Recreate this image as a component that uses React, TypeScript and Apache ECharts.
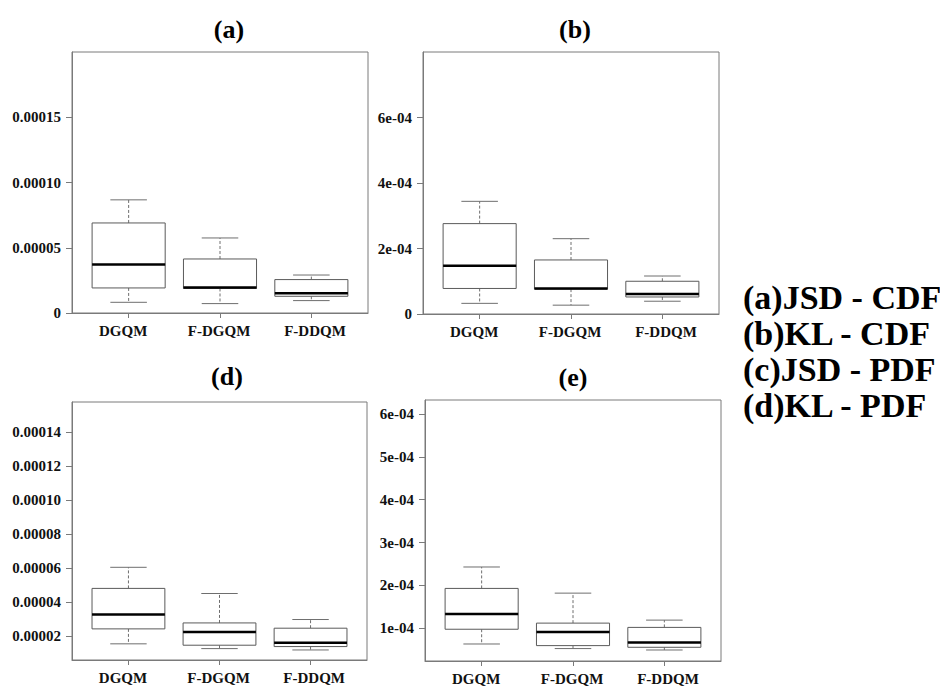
import React, { useEffect, useRef } from "react";
import * as echarts from "echarts";

// ---------- data ----------
const CATEGORIES = ["DGQM", "F-DGQM", "F-DDQM"];
const PANEL_TITLES = ["(a)", "(b)", "(d)", "(e)"];
const LEGEND_LINES = ["(a)JSD - CDF", "(b)KL - CDF", "(c)JSD - PDF", "(d)KL - PDF"];

// five-number summaries [lower whisker, Q1, median, Q3, upper whisker]
const JSD_CDF_DGQM = [8.2e-6, 1.92e-5, 3.71e-5, 6.9e-5, 8.67e-5];
const JSD_CDF_FDGQM = [7.2e-6, 1.88e-5, 1.95e-5, 4.14e-5, 5.75e-5];
const JSD_CDF_FDDQM = [9.5e-6, 1.28e-5, 1.51e-5, 2.56e-5, 2.91e-5];

const KL_CDF_DGQM = [3.25e-5, 7.8e-5, 1.47e-4, 2.76e-4, 3.44e-4];
const KL_CDF_FDGQM = [2.7e-5, 7.6e-5, 7.8e-5, 1.65e-4, 2.3e-4];
const KL_CDF_FDDQM = [3.9e-5, 5.2e-5, 6.1e-5, 1.0e-4, 1.16e-4];

const JSD_PDF_DGQM = [1.55e-5, 2.43e-5, 3.28e-5, 4.81e-5, 6.05e-5];
const JSD_PDF_FDGQM = [1.27e-5, 1.47e-5, 2.24e-5, 2.78e-5, 4.51e-5];
const JSD_PDF_FDDQM = [1.19e-5, 1.39e-5, 1.61e-5, 2.47e-5, 2.98e-5];

const KL_PDF_DGQM = [6.33e-5, 9.77e-5, 1.33e-4, 1.93e-4, 2.43e-4];
const KL_PDF_FDGQM = [5.26e-5, 5.95e-5, 9.14e-5, 1.12e-4, 1.82e-4];
const KL_PDF_FDDQM = [4.93e-5, 5.56e-5, 6.66e-5, 1.02e-4, 1.19e-4];

// y tick values and labels
const TICKS_A = [0, 0.00005, 0.0001, 0.00015];
const LABELS_A = ["0", "0.00005", "0.00010", "0.00015"];
const TICKS_B = [0, 0.0002, 0.0004, 0.0006];
const LABELS_B = ["0", "2e-04", "4e-04", "6e-04"];
const TICKS_D = [0.00002, 0.00004, 0.00006, 0.00008, 0.0001, 0.00012, 0.00014];
const LABELS_D = ["0.00002", "0.00004", "0.00006", "0.00008", "0.00010", "0.00012", "0.00014"];
const TICKS_E = [0.0001, 0.0002, 0.0003, 0.0004, 0.0005, 0.0006];
const LABELS_E = ["1e-04", "2e-04", "3e-04", "4e-04", "5e-04", "6e-04"];

// y ranges
const YRANGE_A = [0, 0.0002];
const YRANGE_B = [0, 0.0008];
const YRANGE_D = [0.000006, 0.0001577];
const YRANGE_E = [0.0000236, 0.0006327];

// ---------- layout ----------
const FONT = "Liberation Serif";
const FRAME = "#7a7a7a";

const PANELS = [
  { grid: { left: 72, top: 52, width: 296, height: 261 }, range: YRANGE_A, ticks: TICKS_A, labels: LABELS_A,
    boxes: [JSD_CDF_DGQM, JSD_CDF_FDGQM, JSD_CDF_FDDQM], title: [229, 29] },
  { grid: { left: 423, top: 52, width: 296, height: 262 }, range: YRANGE_B, ticks: TICKS_B, labels: LABELS_B,
    boxes: [KL_CDF_DGQM, KL_CDF_FDGQM, KL_CDF_FDDQM], title: [575, 29] },
  { grid: { left: 72, top: 402, width: 295, height: 258 }, range: YRANGE_D, ticks: TICKS_D, labels: LABELS_D,
    boxes: [JSD_PDF_DGQM, JSD_PDF_FDGQM, JSD_PDF_FDDQM], title: [227, 376] },
  { grid: { left: 425, top: 400, width: 296, height: 261 }, range: YRANGE_E, ticks: TICKS_E, labels: LABELS_E,
    boxes: [KL_PDF_DGQM, KL_PDF_FDGQM, KL_PDF_FDDQM], title: [573, 377] },
];

const X_TICKS = [1, 2, 3];
const X_LABEL_POS = [0.94, 1.99, 3.04];

function renderBox(params: any, api: any) {
  const x = api.value(0);
  const low = api.value(1), q1 = api.value(2), med = api.value(3), q3 = api.value(4), high = api.value(5);
  const halfBox = api.size([0.4, 0])[0];
  const halfCap = api.size([0.2, 0])[0];
  const [cx, yLow] = api.coord([x, low]);
  const yQ1 = api.coord([x, q1])[1];
  const yMed = api.coord([x, med])[1];
  const yQ3 = api.coord([x, q3])[1];
  const yHigh = api.coord([x, high])[1];
  const whisk = { stroke: "#6e6e6e", lineWidth: 1, lineDash: [3, 2] };
  const cap = { stroke: "#6e6e6e", lineWidth: 1 };
  return {
    type: "group",
    children: [
      { type: "line", shape: { x1: cx, y1: yQ3, x2: cx, y2: yHigh }, style: whisk },
      { type: "line", shape: { x1: cx, y1: yQ1, x2: cx, y2: yLow }, style: whisk },
      { type: "line", shape: { x1: cx - halfCap, y1: yHigh, x2: cx + halfCap, y2: yHigh }, style: cap },
      { type: "line", shape: { x1: cx - halfCap, y1: yLow, x2: cx + halfCap, y2: yLow }, style: cap },
      { type: "rect", shape: { x: cx - halfBox, y: yQ3, width: halfBox * 2, height: yQ1 - yQ3 },
        style: { fill: "#fff", stroke: "#5a5a5a", lineWidth: 1 } },
      { type: "line", shape: { x1: cx - halfBox, y1: yMed, x2: cx + halfBox, y2: yMed },
        style: { stroke: "#000", lineWidth: 2.5 } },
    ],
  };
}

function findLabel(ticks: number[], labels: string[], v: number) {
  const i = ticks.findIndex((t) => Math.abs(t - v) < 1e-12);
  return i >= 0 ? labels[i] : "";
}

export default function App() {
  const ref = useRef<HTMLDivElement>(null);
  useEffect(() => {
    if (!ref.current) return;
    const chart = echarts.init(ref.current, null, { renderer: "svg" });
    const option: any = {
      animation: false,
      backgroundColor: "#fff",
      grid: PANELS.map((p) => ({ ...p.grid, show: true, borderColor: FRAME, borderWidth: 1, backgroundColor: "transparent" })),
      xAxis: PANELS.map((p, i) => ({
        type: "value",
        gridIndex: i,
        min: 0.38,
        max: 3.62,
        splitLine: { show: false },
        axisLine: { show: true, onZero: false, lineStyle: { color: FRAME } },
        axisTick: { show: true, length: 5, lineStyle: { color: FRAME }, customValues: X_TICKS },
        axisLabel: {
          customValues: X_LABEL_POS,
          formatter: (v: number) => CATEGORIES[Math.round(v) - 1] ?? "",
          fontFamily: FONT,
          fontWeight: "bold",
          fontSize: 15,
          color: "#111",
          margin: 10,
        },
      })),
      yAxis: PANELS.map((p, i) => ({
        type: "value",
        gridIndex: i,
        min: p.range[0],
        max: p.range[1],
        splitLine: { show: false },
        axisLine: { show: true, onZero: false, lineStyle: { color: FRAME } },
        axisTick: { show: true, length: 6, lineStyle: { color: FRAME }, customValues: p.ticks },
        axisLabel: {
          customValues: p.ticks,
          formatter: (v: number) => findLabel(p.ticks, p.labels, v),
          fontFamily: FONT,
          fontWeight: "bold",
          fontSize: 15,
          color: "#111",
          margin: 11,
        },
      })),
      series: PANELS.map((p, i) => ({
        type: "custom",
        xAxisIndex: i,
        yAxisIndex: i,
        renderItem: renderBox,
        encode: { x: 0, y: [1, 2, 3, 4, 5] },
        data: p.boxes.map((b, j) => [j + 1, ...b]),
      })),
      graphic: [
        ...PANELS.map((p, i) => ({
          type: "text",
          x: p.title[0],
          y: p.title[1],
          style: {
            text: PANEL_TITLES[i],
            fontFamily: FONT,
            fontWeight: "bold",
            fontSize: 26,
            fill: "#000",
            align: "center",
            verticalAlign: "middle",
          },
        })),
        ...LEGEND_LINES.map((t, i) => ({
          type: "text",
          x: 743,
          y: 297 + i * 36,
          style: {
            text: t,
            fontFamily: FONT,
            fontWeight: "bold",
            fontSize: 34,
            fill: "#000",
            align: "left",
            verticalAlign: "middle",
          },
        })),
      ],
    };
    chart.setOption(option);
    return () => chart.dispose();
  }, []);
  return <div ref={ref} style={{ position: "absolute", left: 0, top: 0, width: 940, height: 688 }} />;
}
